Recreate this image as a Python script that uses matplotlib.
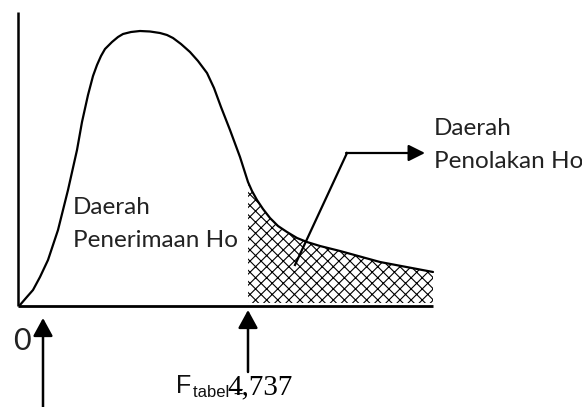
import numpy as np
import matplotlib
matplotlib.use("Agg")
import matplotlib.pyplot as plt

# curve (pixel-like units, y grows downwards)
curve_x = [20, 26, 33, 40, 48, 58, 68, 77, 82, 88, 93, 97, 101, 105, 112, 118, 123,
           131, 140, 150, 160, 167, 173, 181, 190, 198, 207, 214, 221, 230, 240,
           248, 252, 257, 263, 270, 278, 287, 297, 307, 320, 340, 380, 433]
curve_y = [305, 298, 290, 277, 260, 230, 190, 150, 122, 95, 76, 65, 56, 49, 42, 37, 34,
           32, 31, 31.5, 33, 35, 38, 44, 52, 61, 73, 88, 107, 130, 157,
           182, 191, 200, 209, 218, 226, 232, 238, 242, 246, 251, 262, 272]

f_table = 248          # position of F tabel on the axis
f_label = "4,737"
axis_y = 306
axis_x0, axis_x1 = 18, 433
axis_top = 12

accept_lines = ["Daerah", "Penerimaan Ho"]
reject_lines = ["Daerah", "Penolakan Ho"]

plt.rcParams['hatch.linewidth'] = 0.8

fig = plt.figure(figsize=(5.82, 4.07), dpi=100)
ax = fig.add_axes([0, 0, 1, 1])
ax.set_xlim(0, 582)
ax.set_ylim(407, 0)
ax.axis('off')

# axes of the diagram
ax.plot([axis_x0, axis_x1], [axis_y, axis_y], color='black', lw=2, solid_capstyle='butt')
ax.plot([axis_x0, axis_x0], [axis_y, axis_top], color='black', lw=1.8, solid_capstyle='butt')

# rejection region
cx = np.array(curve_x)
cy = np.array(curve_y)
m = cx >= f_table
ax.fill_between(cx[m], cy[m], axis_y - 3, facecolor='none', edgecolor='black',
                hatch='xxx', linewidth=0)

ax.plot(curve_x, curve_y, color='black', lw=1.6,
        solid_joinstyle='round', solid_capstyle='round')

# labels
txt_font = 'Lato'
ax.text(73, 214, accept_lines[0], fontsize=17.5, family=txt_font, color='#222', va='baseline')
ax.text(73, 247, accept_lines[1], fontsize=17.5, family=txt_font, color='#222', va='baseline')
ax.text(434, 135, reject_lines[0], fontsize=17.5, family=txt_font, color='#222', va='baseline')
ax.text(434, 168, reject_lines[1], fontsize=17.5, family=txt_font, color='#222', va='baseline')

# pointer to the rejection label
ax.plot([295, 347], [265, 153], color='black', lw=1.6)
ax.annotate('', xy=(425, 153), xytext=(346, 153),
            arrowprops=dict(arrowstyle='-|>,head_length=0.5,head_width=0.25',
                            mutation_scale=20, lw=1.6, color='black',
                            shrinkA=0, shrinkB=0))

# arrows below the axis
ax.annotate('', xy=(43, 318), xytext=(43, 410),
            arrowprops=dict(arrowstyle='-|>,head_length=0.55,head_width=0.3',
                            mutation_scale=20, lw=1.8, color='black',
                            shrinkA=0, shrinkB=0))
ax.annotate('', xy=(f_table, 310), xytext=(f_table, 372),
            arrowprops=dict(arrowstyle='-|>,head_length=0.55,head_width=0.3',
                            mutation_scale=20, lw=1.8, color='black',
                            shrinkA=0, shrinkB=0))

ax.text(13, 350, "0", fontsize=22, family=txt_font, color='#222', va='baseline')
ax.text(176, 393, "F", fontsize=18, family='Liberation Sans', color='#111', va='baseline')
ax.text(193, 397, "tabel =", fontsize=12, family='Liberation Sans', color='#111', va='baseline')
ax.text(227, 394, f_label, fontsize=21, family='Liberation Serif', color='black', va='baseline')

fig.savefig('out.png', dpi=100)
